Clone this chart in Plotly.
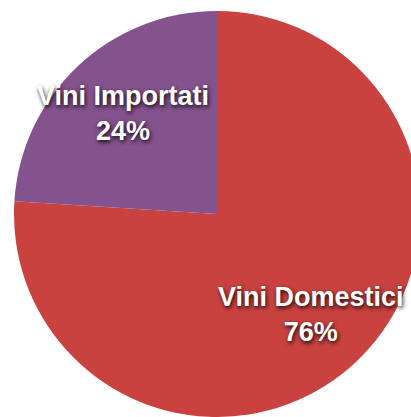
import math
import plotly.graph_objects as go

labels = ["Vini Domestici", "Vini Importati"]
values = [76, 24]
colors = ["#C94240", "#84528C"]

W, H = 430, 417
cx, cy, r = 217, 214, 203
label_r = 0.68

fig = go.Figure(go.Pie(
    labels=labels,
    values=values,
    sort=False,
    direction="counterclockwise",
    rotation=0,
    marker=dict(colors=colors, line=dict(width=0)),
    textinfo="none",
    hoverinfo="skip",
    domain=dict(x=[(cx - r) / W, (cx + r) / W], y=[(H - cy - r) / H, (H - cy + r) / H]),
))

# plotly 'counterclockwise': first slice ends at 12 o'clock side, rest go CCW from top
total = sum(values)
start = values[0] / total * 360  # clockwise degrees from 12 o'clock
cum = 0
annotations = []
for lab, v in zip(labels, values):
    mid_cw = start - (cum + v / 2) / total * 360
    cum += v
    ang = math.radians(90 - mid_cw)
    px = cx + label_r * r * math.cos(ang)
    py = cy - label_r * r * math.sin(ang)
    annotations.append(dict(
        x=px / W, y=1 - py / H, xref="paper", yref="paper",
        xanchor="center", yanchor="middle", showarrow=False,
        text=f"{lab}<br>{round(v / total * 100)}%",
        font=dict(family="Liberation Sans, Arial, sans-serif", size=27, color="white",
                  weight="bold", shadow="1px 2px 4px rgba(0,0,0,0.9)"),
    ))

fig.update_layout(
    width=W, height=H,
    margin=dict(l=0, r=0, t=0, b=0),
    showlegend=False,
    paper_bgcolor="white",
    plot_bgcolor="white",
    annotations=annotations,
)
fig.write_html(
    "out.html",
    config={"displayModeBar": False},
    post_script="document.body.style.margin='0';document.body.style.overflow='hidden';document.documentElement.style.overflow='hidden';",
)
